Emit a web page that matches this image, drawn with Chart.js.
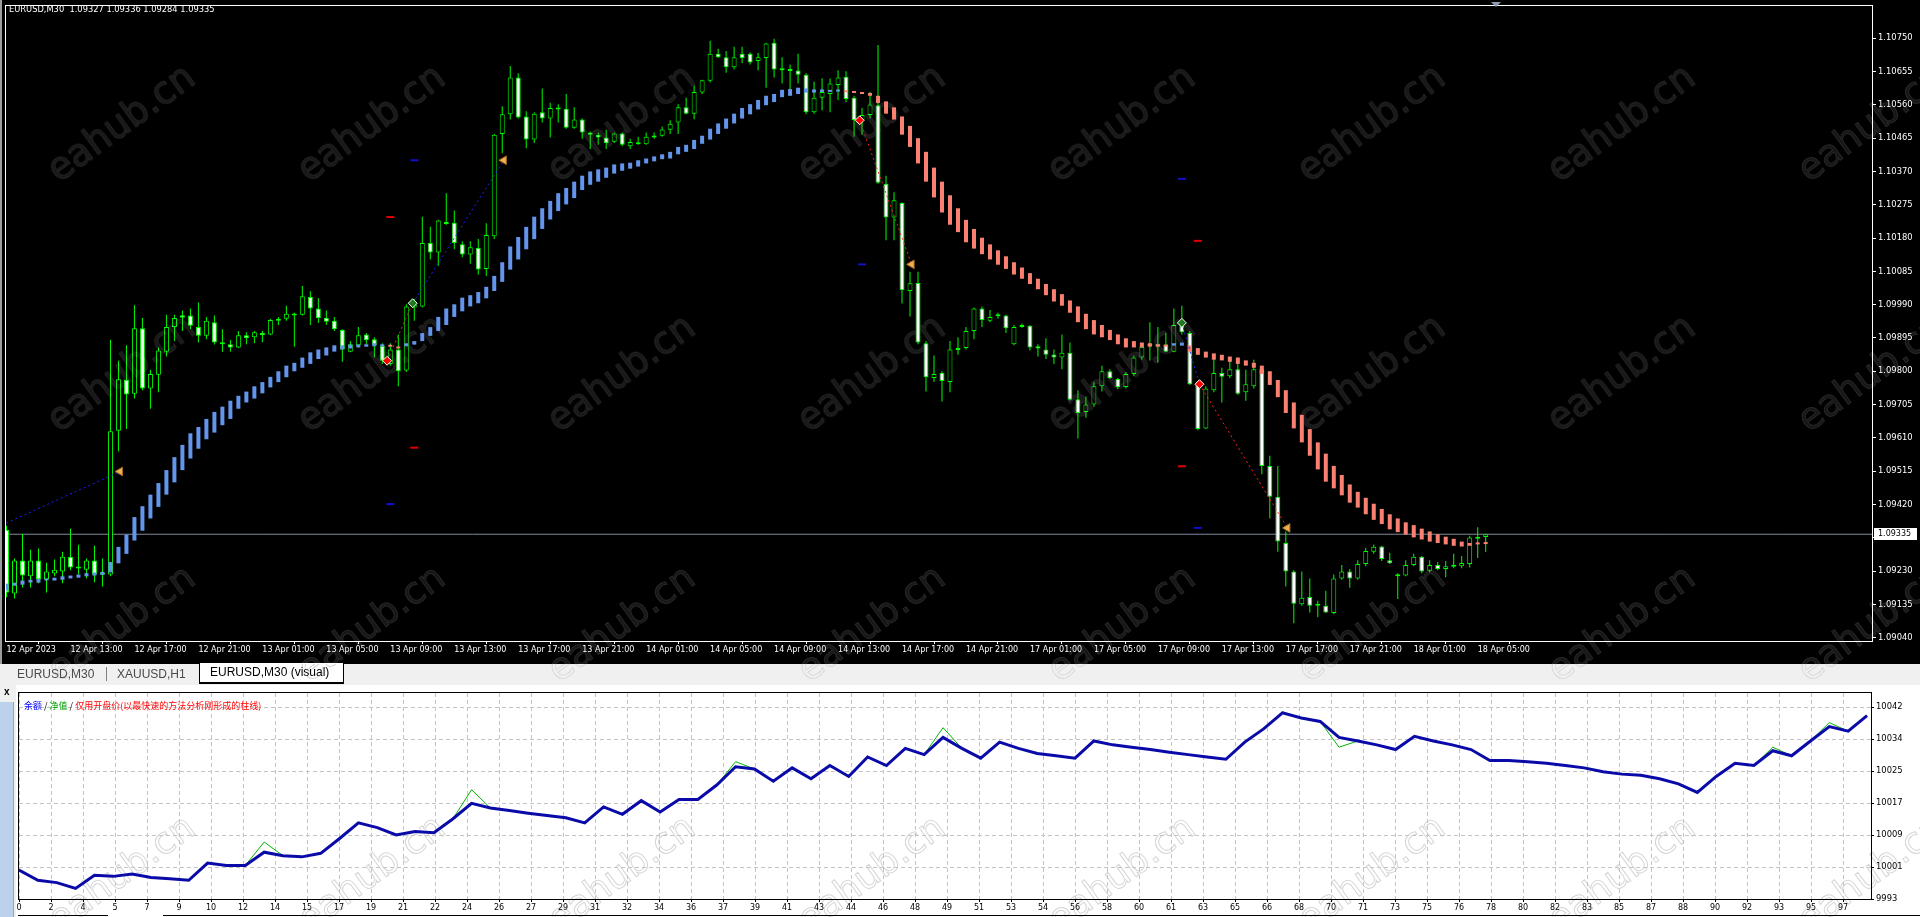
<!DOCTYPE html>
<html><head><meta charset="utf-8">
<script src="https://cdn.jsdelivr.net/npm/chart.js@4.4.1/dist/chart.umd.min.js"></script>
<style>
html,body{margin:0;padding:0;}
body{width:1920px;height:917px;overflow:hidden;position:relative;background:#f0f0f0;font-family:'Liberation Sans',Arial,sans-serif;}
#top{position:absolute;left:0;top:0;width:1920px;height:664px;background:#000;}
#c1{position:absolute;left:0;top:0;}
#edge{position:absolute;left:0;top:0;width:2px;height:664px;background:#9c9c9c;}
#hdr{position:absolute;left:9px;top:4px;color:#fff;font-family:'DejaVu Sans',sans-serif;font-size:8.3px;line-height:11px;white-space:pre;}
#shift{position:absolute;left:1491px;top:2px;width:0;height:0;border-left:5px solid transparent;border-right:5px solid transparent;border-top:5px solid #8c9bb0;}
#tabs{position:absolute;left:0;top:664px;width:1920px;height:21px;background:#f0f0f0;font-size:12px;}
.tab{position:absolute;top:3px;line-height:14px;color:#4a4a4a;white-space:nowrap;}
.sep{position:absolute;top:3px;width:1px;height:14px;background:#808080;}
#act{position:absolute;left:199px;top:-2px;width:133px;height:19px;padding-left:10px;background:#fff;border:1px solid #000;border-bottom-width:2px;line-height:19px;color:#000;white-space:nowrap;}
#panel{position:absolute;left:16px;top:685px;width:1904px;height:232px;background:#fff;}
#lgray{position:absolute;left:0;top:685px;width:16px;height:232px;background:#f0f0f0;}
#xbtn{position:absolute;left:4px;top:687px;font-size:10px;font-weight:bold;color:#000;line-height:10px;}
#lblue{position:absolute;left:0;top:702px;width:13px;height:215px;background:#bcd2ec;border-right:1px solid #8aa6c8;}
#c2{position:absolute;left:0;top:680px;}
#legend{position:absolute;left:24px;top:700px;font-size:9px;line-height:12px;font-family:'Noto Sans CJK SC',sans-serif;color:#000;white-space:nowrap;}
.bl{position:absolute;top:915px;height:1px;background:#000;}
#wmTop{position:absolute;left:0;top:0;width:1920px;height:664px;overflow:hidden;pointer-events:none;mix-blend-mode:lighten;}
#wmBot{position:absolute;left:0;top:664px;width:1920px;height:253px;overflow:hidden;pointer-events:none;mix-blend-mode:darken;}
.wm{position:absolute;font-family:'DejaVu Sans',sans-serif;font-size:37px;line-height:40px;white-space:nowrap;transform:translate(-50%,-50%) rotate(-36deg);}
#wmTop .wm{color:#171717;-webkit-text-stroke:1px #272727;}
#wmBot .wm{color:#ffffff;-webkit-text-stroke:1px #d6d6d6;}
</style></head>
<body>
<div id="top"><canvas id="c1" width="1920" height="664"></canvas><div id="edge"></div><div id="hdr"></div><div id="shift"></div></div>
<div id="tabs">
  <div class="tab" style="left:17px">EURUSD,M30</div>
  <div class="sep" style="left:106px"></div>
  <div class="tab" style="left:117px">XAUUSD,H1</div>
  <div id="act">EURUSD,M30 (visual)</div>
</div>
<div id="lgray"></div><div id="xbtn">x</div><div id="lblue"></div>
<div id="panel"></div>
<canvas id="c2" width="1920" height="237"></canvas>
<div id="legend"><span style="color:#0000ff">余额</span> / <span style="color:#00a000">净值</span> / <span style="color:#ff0000">仅用开盘价(以最快速的方法分析刚形成的柱线)</span></div>
<div class="bl" style="left:18px;width:90px"></div><div class="bl" style="left:163px;width:1757px"></div>
<div id="wmTop"></div><div id="wmBot"></div>
<script>
// ---------- data: EURUSD M30 candles ----------
const symbolLabel = 'EURUSD,M30';
const opens = [1.09348,1.09166,1.09260,1.09215,1.09260,1.09206,1.09223,1.09229,1.09271,1.09243,
1.09234,1.09260,1.09220,1.09220,1.09630,1.09775,1.09736,1.09923,1.09751,1.09790,
1.09856,1.09926,1.09960,1.09959,1.09926,1.09901,1.09940,1.09883,1.09877,1.09868,
1.09903,1.09897,1.09909,1.09905,1.09950,1.09950,1.09964,1.09961,1.10012,1.09979,
1.09953,1.09944,1.09918,1.09856,1.09874,1.09905,1.09891,1.09873,1.09821,1.09862,
1.09802,1.09982,1.09985,1.10166,1.10139,1.10226,1.10224,1.10162,1.10133,1.10152,
1.10092,1.10185,1.10477,1.10533,1.10638,1.10527,1.10461,1.10539,1.10521,1.10552,
1.10549,1.10495,1.10518,1.10481,1.10475,1.10467,1.10455,1.10478,1.10442,1.10451,
1.10448,1.10472,1.10472,1.10489,1.10510,1.10553,1.10535,1.10595,1.10629,1.10706,
1.10696,1.10667,1.10706,1.10706,1.10685,1.10694,1.10737,1.10661,1.10659,1.10658,
1.10646,1.10539,1.10580,1.10591,1.10617,1.10640,1.10580,1.10516,1.10531,1.10559,
1.10335,1.10239,1.10280,1.10029,1.10052,1.09880,1.09781,1.09796,1.09769,1.09865,
1.09866,1.09915,1.09979,1.09944,1.09959,1.09959,1.09877,1.09931,1.09930,1.09871,
1.09862,1.09848,1.09839,1.09853,1.09720,1.09684,1.09705,1.09757,1.09800,1.09778,
1.09755,1.09792,1.09839,1.09873,1.09871,1.09876,1.09856,1.09929,1.09909,1.09763,
1.09637,1.09746,1.09795,1.09786,1.09806,1.09740,1.09757,1.09806,1.09530,1.09442,
1.09310,1.09229,1.09135,1.09156,1.09133,1.09131,1.09110,1.09209,1.09229,1.09209,
1.09250,1.09285,1.09300,1.09261,1.09215,1.09217,1.09247,1.09271,1.09231,1.09247,
1.09236,1.09242,1.09244,1.09250,1.09322,1.09327];
const highs = [1.09359,1.09266,1.09336,1.09291,1.09294,1.09254,1.09263,1.09285,1.09351,1.09305,
1.09266,1.09302,1.09266,1.09890,1.09830,1.09874,1.09988,1.09952,1.09804,1.09868,
1.09961,1.09961,1.09973,1.09979,1.09996,1.09955,1.09959,1.09920,1.09889,1.09915,
1.09911,1.09915,1.09915,1.09950,1.09955,1.09987,1.09967,1.10043,1.10028,1.10008,
1.09973,1.09955,1.09920,1.09886,1.09926,1.09909,1.09897,1.09880,1.09880,1.09905,
1.09991,1.10006,1.10241,1.10212,1.10232,1.10308,1.10259,1.10171,1.10171,1.10177,
1.10222,1.10477,1.10556,1.10671,1.10650,1.10542,1.10539,1.10607,1.10566,1.10562,
1.10591,1.10553,1.10521,1.10484,1.10481,1.10489,1.10481,1.10481,1.10463,1.10469,
1.10481,1.10481,1.10498,1.10516,1.10562,1.10580,1.10615,1.10632,1.10743,1.10720,
1.10714,1.10726,1.10726,1.10710,1.10708,1.10737,1.10749,1.10696,1.10675,1.10706,
1.10650,1.10626,1.10636,1.10635,1.10659,1.10656,1.10586,1.10551,1.10597,1.10731,
1.10358,1.10311,1.10282,1.10084,1.10084,1.09886,1.09845,1.09800,1.09886,1.09897,
1.09926,1.09982,1.09985,1.09975,1.09967,1.09961,1.09932,1.09936,1.09932,1.09877,
1.09894,1.09862,1.09905,1.09882,1.09746,1.09728,1.09769,1.09816,1.09806,1.09781,
1.09798,1.09845,1.09880,1.09940,1.09926,1.09909,1.09979,1.09987,1.09915,1.09769,
1.09757,1.09835,1.09810,1.09835,1.09839,1.09804,1.09833,1.09816,1.09559,1.09530,
1.09343,1.09232,1.09229,1.09209,1.09145,1.09174,1.09220,1.09247,1.09236,1.09261,
1.09296,1.09306,1.09302,1.09282,1.09224,1.09261,1.09279,1.09273,1.09261,1.09256,
1.09259,1.09279,1.09273,1.09331,1.09355,1.09336];
const lows = [1.09155,1.09152,1.09183,1.09183,1.09195,1.09169,1.09215,1.09195,1.09232,1.09220,
1.09209,1.09198,1.09186,1.09215,1.09571,1.09635,1.09722,1.09746,1.09693,1.09740,
1.09842,1.09886,1.09915,1.09920,1.09882,1.09891,1.09876,1.09856,1.09856,1.09866,
1.09877,1.09880,1.09883,1.09903,1.09932,1.09944,1.09870,1.09959,1.09932,1.09938,
1.09932,1.09915,1.09827,1.09854,1.09868,1.09877,1.09839,1.09821,1.09816,1.09757,
1.09798,1.09944,1.09982,1.10119,1.10101,1.10218,1.10148,1.10125,1.10107,1.10075,
1.10072,1.10177,1.10422,1.10518,1.10521,1.10436,1.10451,1.10510,1.10467,1.10510,
1.10492,1.10492,1.10463,1.10434,1.10446,1.10434,1.10451,1.10442,1.10434,1.10446,
1.10446,1.10463,1.10469,1.10477,1.10477,1.10533,1.10519,1.10591,1.10624,1.10694,
1.10652,1.10661,1.10679,1.10675,1.10659,1.10609,1.10638,1.10621,1.10586,1.10621,
1.10533,1.10535,1.10545,1.10539,1.10574,1.10568,1.10469,1.10475,1.10521,1.10335,
1.10174,1.10174,1.09993,1.09956,1.09877,1.09742,1.09769,1.09714,1.09740,1.09847,
1.09862,1.09891,1.09926,1.09940,1.09950,1.09909,1.09874,1.09924,1.09859,1.09842,
1.09835,1.09821,1.09806,1.09716,1.09608,1.09667,1.09699,1.09742,1.09777,1.09749,
1.09751,1.09786,1.09833,1.09831,1.09824,1.09854,1.09854,1.09905,1.09761,1.09632,
1.09635,1.09740,1.09711,1.09781,1.09732,1.09716,1.09751,1.09506,1.09380,1.09285,
1.09186,1.09081,1.09131,1.09112,1.09098,1.09110,1.09107,1.09205,1.09182,1.09205,
1.09244,1.09279,1.09259,1.09250,1.09150,1.09215,1.09244,1.09224,1.09226,1.09232,
1.09212,1.09238,1.09238,1.09240,1.09267,1.09284];
const closes = [1.09169,1.09260,1.09217,1.09260,1.09206,1.09229,1.09234,1.09271,1.09240,1.09237,
1.09260,1.09220,1.09223,1.09629,1.09777,1.09734,1.09923,1.09751,1.09792,1.09859,
1.09926,1.09952,1.09953,1.09930,1.09901,1.09944,1.09882,1.09877,1.09868,1.09903,
1.09895,1.09911,1.09903,1.09946,1.09944,1.09964,1.09959,1.10014,1.09979,1.09952,
1.09941,1.09920,1.09862,1.09877,1.09903,1.09889,1.09874,1.09830,1.09862,1.09800,
1.09985,1.09991,1.10166,1.10139,1.10230,1.10220,1.10166,1.10133,1.10154,1.10090,
1.10189,1.10475,1.10533,1.10638,1.10524,1.10461,1.10535,1.10521,1.10551,1.10547,
1.10495,1.10518,1.10481,1.10475,1.10467,1.10451,1.10478,1.10446,1.10454,1.10448,
1.10469,1.10467,1.10490,1.10506,1.10553,1.10535,1.10597,1.10630,1.10706,1.10696,
1.10667,1.10696,1.10694,1.10681,1.10696,1.10735,1.10661,1.10659,1.10657,1.10646,
1.10539,1.10580,1.10597,1.10621,1.10638,1.10577,1.10516,1.10531,1.10561,1.10338,
1.10239,1.10288,1.10031,1.10051,1.09882,1.09783,1.09792,1.09772,1.09862,1.09861,
1.09915,1.09979,1.09946,1.09955,1.09957,1.09923,1.09926,1.09926,1.09868,1.09865,
1.09847,1.09839,1.09853,1.09719,1.09681,1.09705,1.09757,1.09800,1.09781,1.09755,
1.09792,1.09839,1.09870,1.09877,1.09876,1.09856,1.09932,1.09911,1.09763,1.09635,
1.09751,1.09795,1.09784,1.09806,1.09736,1.09763,1.09806,1.09530,1.09442,1.09314,
1.09229,1.09137,1.09154,1.09131,1.09131,1.09112,1.09209,1.09229,1.09209,1.09250,
1.09287,1.09299,1.09264,1.09252,1.09217,1.09247,1.09271,1.09229,1.09247,1.09236,
1.09244,1.09244,1.09253,1.09326,1.09328,1.09335];

// trend indicator (two buffer values per bar) and its direction runs
const trendHi = [1.09194,1.09197,1.09203,1.09205,1.09207,1.09209,1.09211,1.09215,1.09217,1.09220,
1.09224,1.09226,1.09228,1.09256,1.09299,1.09334,1.09384,1.09415,1.09448,1.09481,
1.09518,1.09555,1.09590,1.09623,1.09641,1.09664,1.09684,1.09699,1.09716,1.09730,
1.09742,1.09757,1.09769,1.09784,1.09800,1.09816,1.09824,1.09839,1.09854,1.09862,
1.09868,1.09874,1.09874,1.09876,1.09876,1.09877,1.09880,1.09877,1.09875,1.09870,
1.09880,1.09886,1.09909,1.09926,1.09955,1.09979,1.09991,1.10010,1.10017,1.10026,
1.10041,1.10072,1.10111,1.10156,1.10183,1.10212,1.10241,1.10265,1.10286,1.10308,
1.10323,1.10341,1.10358,1.10370,1.10376,1.10381,1.10390,1.10393,1.10395,1.10402,
1.10407,1.10413,1.10419,1.10426,1.10440,1.10446,1.10460,1.10472,1.10492,1.10507,
1.10521,1.10535,1.10551,1.10562,1.10574,1.10586,1.10591,1.10603,1.10605,1.10609,
1.10607,1.10604,1.10604,1.10603,1.10603,1.10600,1.10597,1.10596,1.10594,1.10586,
1.10570,1.10553,1.10527,1.10500,1.10465,1.10426,1.10381,1.10341,1.10302,1.10265,
1.10232,1.10206,1.10181,1.10162,1.10145,1.10128,1.10111,1.10096,1.10080,1.10064,
1.10049,1.10034,1.10020,1.10002,1.09985,1.09964,1.09946,1.09932,1.09918,1.09905,
1.09894,1.09886,1.09882,1.09880,1.09877,1.09876,1.09880,1.09882,1.09874,1.09866,
1.09856,1.09851,1.09847,1.09842,1.09839,1.09831,1.09824,1.09816,1.09800,1.09775,
1.09746,1.09711,1.09676,1.09635,1.09597,1.09565,1.09530,1.09504,1.09477,1.09456,
1.09439,1.09422,1.09407,1.09392,1.09380,1.09369,1.09361,1.09351,1.09343,1.09335,
1.09328,1.09322,1.09314,1.09310,1.09310,1.09310];
const trendLo = [1.09174,1.09188,1.09191,1.09197,1.09197,1.09203,1.09203,1.09205,1.09209,1.09211,
1.09215,1.09217,1.09219,1.09226,1.09252,1.09279,1.09317,1.09345,1.09380,1.09413,
1.09448,1.09483,1.09518,1.09551,1.09579,1.09606,1.09625,1.09646,1.09664,1.09693,
1.09711,1.09722,1.09737,1.09754,1.09769,1.09783,1.09800,1.09810,1.09821,1.09835,
1.09845,1.09856,1.09862,1.09865,1.09868,1.09870,1.09871,1.09871,1.09870,1.09865,
1.09871,1.09876,1.09886,1.09901,1.09915,1.09932,1.09955,1.09971,1.09985,1.09994,
1.10008,1.10029,1.10055,1.10090,1.10119,1.10148,1.10177,1.10206,1.10233,1.10257,
1.10276,1.10294,1.10317,1.10332,1.10341,1.10352,1.10364,1.10372,1.10378,1.10384,
1.10393,1.10399,1.10405,1.10407,1.10419,1.10426,1.10434,1.10449,1.10461,1.10477,
1.10492,1.10507,1.10521,1.10533,1.10547,1.10559,1.10568,1.10582,1.10586,1.10591,
1.10595,1.10595,1.10597,1.10597,1.10598,1.10596,1.10594,1.10591,1.10586,1.10565,
1.10535,1.10518,1.10475,1.10440,1.10393,1.10341,1.10296,1.10253,1.10218,1.10197,
1.10168,1.10150,1.10134,1.10119,1.10104,1.10092,1.10076,1.10064,1.10049,1.10034,
1.10017,1.09999,1.09987,1.09967,1.09940,1.09920,1.09905,1.09897,1.09889,1.09877,
1.09868,1.09868,1.09868,1.09870,1.09870,1.09870,1.09873,1.09873,1.09856,1.09847,
1.09839,1.09833,1.09831,1.09827,1.09821,1.09816,1.09810,1.09792,1.09761,1.09726,
1.09681,1.09637,1.09597,1.09559,1.09520,1.09485,1.09466,1.09446,1.09425,1.09411,
1.09392,1.09376,1.09364,1.09349,1.09341,1.09334,1.09326,1.09320,1.09314,1.09310,
1.09306,1.09302,1.09300,1.09302,1.09306,1.09307];
const trendRuns = [[48,1],[2,-1],[55,1],[41,-1],[2,1],[38,-1]];

// axis labels
const priceTicks = [1.09040,1.09135,1.09230,1.09325,1.09420,1.09515,1.09610,1.09705,1.09800,1.09895,
1.09990,1.10085,1.10180,1.10275,1.10370,1.10465,1.10560,1.10655,1.10750];
const timeLabelBars = [0,8,16,24,32,40,48,56,64,72,80,88,96,104,112,120,128,136,144,152,160,168,176,184];
const timeLabels = ['12 Apr 2023','12 Apr 13:00','12 Apr 17:00','12 Apr 21:00','13 Apr 01:00','13 Apr 05:00',
'13 Apr 09:00','13 Apr 13:00','13 Apr 17:00','13 Apr 21:00','14 Apr 01:00','14 Apr 05:00','14 Apr 09:00',
'14 Apr 13:00','14 Apr 17:00','14 Apr 21:00','17 Apr 01:00','17 Apr 05:00','17 Apr 09:00','17 Apr 13:00',
'17 Apr 17:00','17 Apr 21:00','18 Apr 01:00','18 Apr 05:00'];

// trades shown on the chart
const tradeSide = ['buy','sell','buy','sell','buy','sell'];
const tradeOpenBar = [-0.6,47.6,50.8,106.7,147.0,149.2];
const tradeOpenPrice = [1.09361,1.09830,1.09994,1.10516,1.09938,1.09763];
const tradeCloseBar = [14.2,50.8,62.2,113.2,149.2,160.2];
const tradeClosePrice = [1.09514,1.09994,1.10402,1.10105,1.09763,1.09353];
const tradeClosedByTarget = [true,false,true,true,false,true];
const tradeLevelBar = [null,48,51,107,147,149];
const tradeTP = [null,1.09421,1.10402,1.10105,1.10349,1.09353];
const tradeSL = [null,1.10240,1.09582,null,1.09529,1.10172];

// tester graph: balance / equity per trade
const balance = [10000.0,9997.4,9996.8,9995.3,9998.7,9998.4,9999.0,9998.1,9997.8,9997.4,
10001.8,10001.2,10001.2,10004.6,10003.7,10003.4,10004.3,10008.1,10012.1,10010.9,
10009.0,10009.9,10009.6,10013.1,10017.1,10015.9,10015.3,10014.6,10014.0,10013.4,
10012.1,10016.2,10014.3,10017.8,10014.9,10018.1,10018.1,10021.8,10026.5,10025.9,
10022.8,10026.2,10023.4,10026.8,10024.0,10029.0,10026.8,10031.2,10029.6,10034.0,
10031.2,10028.7,10032.8,10031.2,10029.9,10029.3,10028.7,10033.1,10032.1,10031.5,
10030.9,10030.2,10029.6,10029.0,10028.4,10032.8,10036.2,10040.3,10039.0,10038.1,
10034.0,10033.1,10032.1,10030.9,10034.3,10033.1,10032.1,10030.9,10028.1,10028.1,
10027.8,10027.4,10026.8,10026.2,10025.2,10024.6,10024.3,10023.4,10022.1,10019.9,
10024.0,10027.4,10026.8,10030.6,10029.3,10033.1,10036.8,10035.6,10039.6];
const equity = [10000.0,9997.4,9996.8,9995.3,9998.7,9998.4,9999.0,9998.1,9997.8,9997.4,
10001.8,10001.2,10001.2,10007.2,10003.7,10003.4,10004.3,10008.1,10012.1,10010.9,
10009.0,10009.9,10009.6,10013.1,10020.6,10015.9,10015.3,10014.6,10014.0,10013.4,
10012.1,10016.2,10014.3,10017.8,10014.9,10018.1,10018.1,10021.8,10027.8,10025.9,
10022.8,10026.2,10023.4,10026.8,10024.0,10029.0,10026.8,10031.2,10029.6,10036.5,
10031.2,10028.7,10032.8,10031.2,10029.9,10029.3,10028.7,10033.1,10032.1,10031.5,
10030.9,10030.2,10029.6,10029.0,10028.4,10032.8,10036.2,10040.6,10039.0,10038.1,
10031.5,10033.1,10032.1,10030.9,10034.3,10033.1,10032.1,10030.9,10028.1,10028.1,
10027.8,10027.4,10026.8,10026.2,10025.2,10024.6,10024.3,10023.4,10022.1,10019.9,
10024.0,10027.4,10026.8,10031.5,10029.3,10033.1,10037.8,10035.6,10039.6];
const balanceTicks = [9992.6,10000.8,10009.0,10017.2,10025.4,10033.6,10041.8];
const tradeAxisLabels = ['0','2','4','5','7','9','10','12','14','15','17','19','21','22','24','26','27','29','31','32',
'34','36','37','39','41','43','44','46','48','49','51','53','54','56','58','60','61','63','65','66',
'68','70','71','73','75','76','78','80','82','83','85','87','88','90','92','93','95','97'];

// ---------- build ----------
const AXIS_FONT = "'DejaVu Sans', sans-serif";
Chart.defaults.font.family = AXIS_FONT;
Chart.defaults.font.size = 8;
const N = opens.length;
const bid = closes[N-1];
document.getElementById('hdr').textContent = symbolLabel + '  ' + [opens[N-1],highs[N-1],lows[N-1],closes[N-1]].map(v=>v.toFixed(5)).join(' ');

const trendDir = [];
trendRuns.forEach(([n,d])=>{for(let k=0;k<n;k++) trendDir.push(d);});
const upBand = [], dnBand = [];
trendHi.forEach((h,i)=>{ (trendDir[i]>0?upBand:dnBand).push({x:i, y:[trendLo[i], h]}); });

const bodyData = opens.map((o,i)=>({x:i, y:[Math.min(o,closes[i]), Math.max(o,closes[i])]}));
const bodyFill = opens.map((o,i)=> closes[i] < o ? '#ffffff' : '#000000');
const wickData = highs.map((h,i)=>({x:i, y:[lows[i], h]}));

const X_MIN = -0.0625, X_MAX = 233.3125;
const datasets = [];
const sellOpen = [], buyOpen = [], closeMarks = [], tpMarks = [], slMarks = [];
tradeSide.forEach((s,k)=>{
  if (tradeOpenBar[k] >= 0) (s==='sell'?sellOpen:buyOpen).push({x:tradeOpenBar[k], y:tradeOpenPrice[k]});
  if (tradeClosedByTarget[k]) closeMarks.push({x:tradeCloseBar[k], y:tradeClosePrice[k]});
  if (tradeLevelBar[k]!==null){
    if (tradeTP[k]!==null) tpMarks.push({x:tradeLevelBar[k], y:tradeTP[k]});
    if (tradeSL[k]!==null) slMarks.push({x:tradeLevelBar[k], y:tradeSL[k]});
  }
});
datasets.push({type:'scatter', data:sellOpen, pointStyle:'rectRot', pointRadius:4.5, backgroundColor:'#ff0000', borderColor:'#ffffff', borderWidth:1, order:0});
datasets.push({type:'scatter', data:buyOpen, pointStyle:'rectRot', pointRadius:4.5, backgroundColor:'#1c7c1c', borderColor:'#ffffff', borderWidth:1, order:0});
datasets.push({type:'scatter', data:closeMarks, pointStyle:'triangle', rotation:-90, pointRadius:5, backgroundColor:'#f0b050', borderColor:'#a06a20', borderWidth:1, order:0});
datasets.push({type:'scatter', data:tpMarks, pointStyle:'line', pointRadius:4, borderColor:'#1010c8', borderWidth:2, order:0});
datasets.push({type:'scatter', data:slMarks, pointStyle:'line', pointRadius:4, borderColor:'#e00000', borderWidth:2, order:0});
tradeSide.forEach((s,k)=>{
  datasets.push({type:'line', data:[{x:tradeOpenBar[k],y:tradeOpenPrice[k]},{x:tradeCloseBar[k],y:tradeClosePrice[k]}],
    borderColor: s==='buy' ? '#2020ff' : '#ff2020', borderWidth:1, borderDash:[2,3], pointRadius:0, order:1});
});
datasets.push({type:'bar', data:upBand, backgroundColor:'#6495ed', borderWidth:0, barThickness:4, grouped:false, inflateAmount:0, minBarLength:2, order:3});
datasets.push({type:'bar', data:dnBand, backgroundColor:'#fa8072', borderWidth:0, barThickness:4, grouped:false, inflateAmount:0, minBarLength:2, order:3});
datasets.push({type:'bar', data:bodyData, backgroundColor:bodyFill, borderColor:'#00ff00', borderWidth:1, borderSkipped:false, barThickness:5, grouped:false, inflateAmount:0, minBarLength:2, order:4});
datasets.push({type:'bar', data:wickData, backgroundColor:'#00ff00', borderWidth:0, barThickness:1, grouped:false, inflateAmount:0, order:5});
datasets.push({type:'line', data:[{x:X_MIN,y:bid},{x:X_MAX,y:bid}], borderColor:'#7f8c9c', borderWidth:1, pointRadius:0, order:6});

const framePlugin = {
  id:'frame',
  afterDraw(chart, args, opts){
    const {ctx, chartArea:a} = chart;
    ctx.save(); ctx.strokeStyle = opts.color || '#fff'; ctx.lineWidth = 1;
    ctx.strokeRect(a.left-0.5, a.top-0.5, a.right-a.left+1, a.bottom-a.top+1);
    ctx.restore();
  }
};
const bidPlugin = {
  id:'bidLabel',
  afterDraw(chart){
    const y = chart.scales.y.getPixelForValue(bid), a = chart.chartArea, ctx = chart.ctx;
    ctx.save();
    ctx.fillStyle = '#ffffff'; ctx.fillRect(a.right+2, Math.round(y)-6, 43, 12);
    ctx.fillStyle = '#000000'; ctx.font = "8px " + AXIS_FONT; ctx.textBaseline = 'middle';
    ctx.fillText(bid.toFixed(5), a.right+6, y);
    ctx.restore();
  }
};

new Chart(document.getElementById('c1'), {
  type:'bar',
  data:{datasets},
  options:{
    responsive:false, animation:false, devicePixelRatio:1,
    layout:{padding:{left:5, top:2, right:0, bottom:0}},
    plugins:{legend:{display:false}, tooltip:{enabled:false}, frame:{color:'#ffffff'}},
    scales:{
      x:{type:'linear', offset:false, min:X_MIN, max:X_MAX,
         afterBuildTicks:s=>{ s.ticks = timeLabelBars.map(v=>({value:v})); },
         afterFit:s=>{ s.height = 23; s.paddingLeft = 0; s.paddingRight = 0; },
         ticks:{autoSkip:false, maxRotation:0, minRotation:0, align:'start', padding:1, color:'#ffffff', font:{size:8},
                callback:(v,i)=>timeLabels[i]},
         grid:{drawOnChartArea:false, drawTicks:true, tickLength:3, color:'#ffffff'},
         border:{display:false}},
      y:{type:'linear', position:'right', min:1.090304, max:1.108421,
         afterBuildTicks:s=>{ s.ticks = priceTicks.map(v=>({value:v})); },
         afterFit:s=>{ s.width = 48; s.paddingTop = 0; s.paddingBottom = 0; },
         ticks:{autoSkip:false, padding:2, color:'#ffffff', font:{size:8.4}, callback:v=>Number(v).toFixed(5)},
         grid:{drawOnChartArea:false, drawTicks:true, tickLength:4, color:'#ffffff'},
         border:{display:false}}
    }
  },
  plugins:[framePlugin, bidPlugin]
});

const gridTradeStep = 1.697;
new Chart(document.getElementById('c2'), {
  type:'line',
  data:{datasets:[
    {data:balance.map((v,i)=>({x:i,y:v})), borderColor:'#0a0aa8', borderWidth:3, pointRadius:0, tension:0, order:0},
    {data:equity.map((v,i)=>({x:i,y:v})), borderColor:'#00b400', borderWidth:1, pointRadius:0, tension:0, order:1}
  ]},
  options:{
    responsive:false, animation:false, devicePixelRatio:1,
    layout:{padding:{left:19, top:13, right:0, bottom:0}},
    plugins:{legend:{display:false}, tooltip:{enabled:false}, frame:{color:'#000000'}},
    scales:{
      x:{type:'linear', offset:false, min:0, max:98.21,
         afterBuildTicks:s=>{ s.ticks = tradeAxisLabels.map((l,k)=>({value:k*gridTradeStep})); },
         afterFit:s=>{ s.height = 18; s.paddingLeft = 0; s.paddingRight = 0; },
         ticks:{autoSkip:false, maxRotation:0, minRotation:0, padding:1, color:'#000000', font:{size:8},
                callback:(v,i)=>tradeAxisLabels[i]},
         grid:{color:'#c4c4c4', lineWidth:1, tickLength:3, tickColor:'#000000'},
         border:{display:false, dash:[4,3]}},
      y:{type:'linear', position:'right', min:9992.6, max:10045.39,
         afterBuildTicks:s=>{ s.ticks = balanceTicks.map(v=>({value:v})); },
         afterFit:s=>{ s.width = 49; s.paddingTop = 0; s.paddingBottom = 0; },
         ticks:{autoSkip:false, padding:2, color:'#000000', font:{size:8.4}, callback:v=>String(Math.round(v))},
         grid:{color:'#c4c4c4', lineWidth:1, tickLength:3, tickColor:'#000000'},
         border:{display:false, dash:[4,3]}}
    }
  },
  plugins:[framePlugin]
});

// watermark text
const wmText = 'eahub.cn';
const wmTop = document.getElementById('wmTop'), wmBot = document.getElementById('wmBot');
for (let m=0; m<4; m++) for (let k=-1; k<=7; k++) {
  const cx = 121 + 250*k, cy = 123 + 250*m;
  [[wmTop,0],[wmBot,664]].forEach(([layer,off])=>{
    const d = document.createElement('div'); d.className='wm'; d.textContent = wmText;
    d.style.left = cx+'px'; d.style.top = (cy-off)+'px'; layer.appendChild(d);
  });
}
</script>
</body></html>
